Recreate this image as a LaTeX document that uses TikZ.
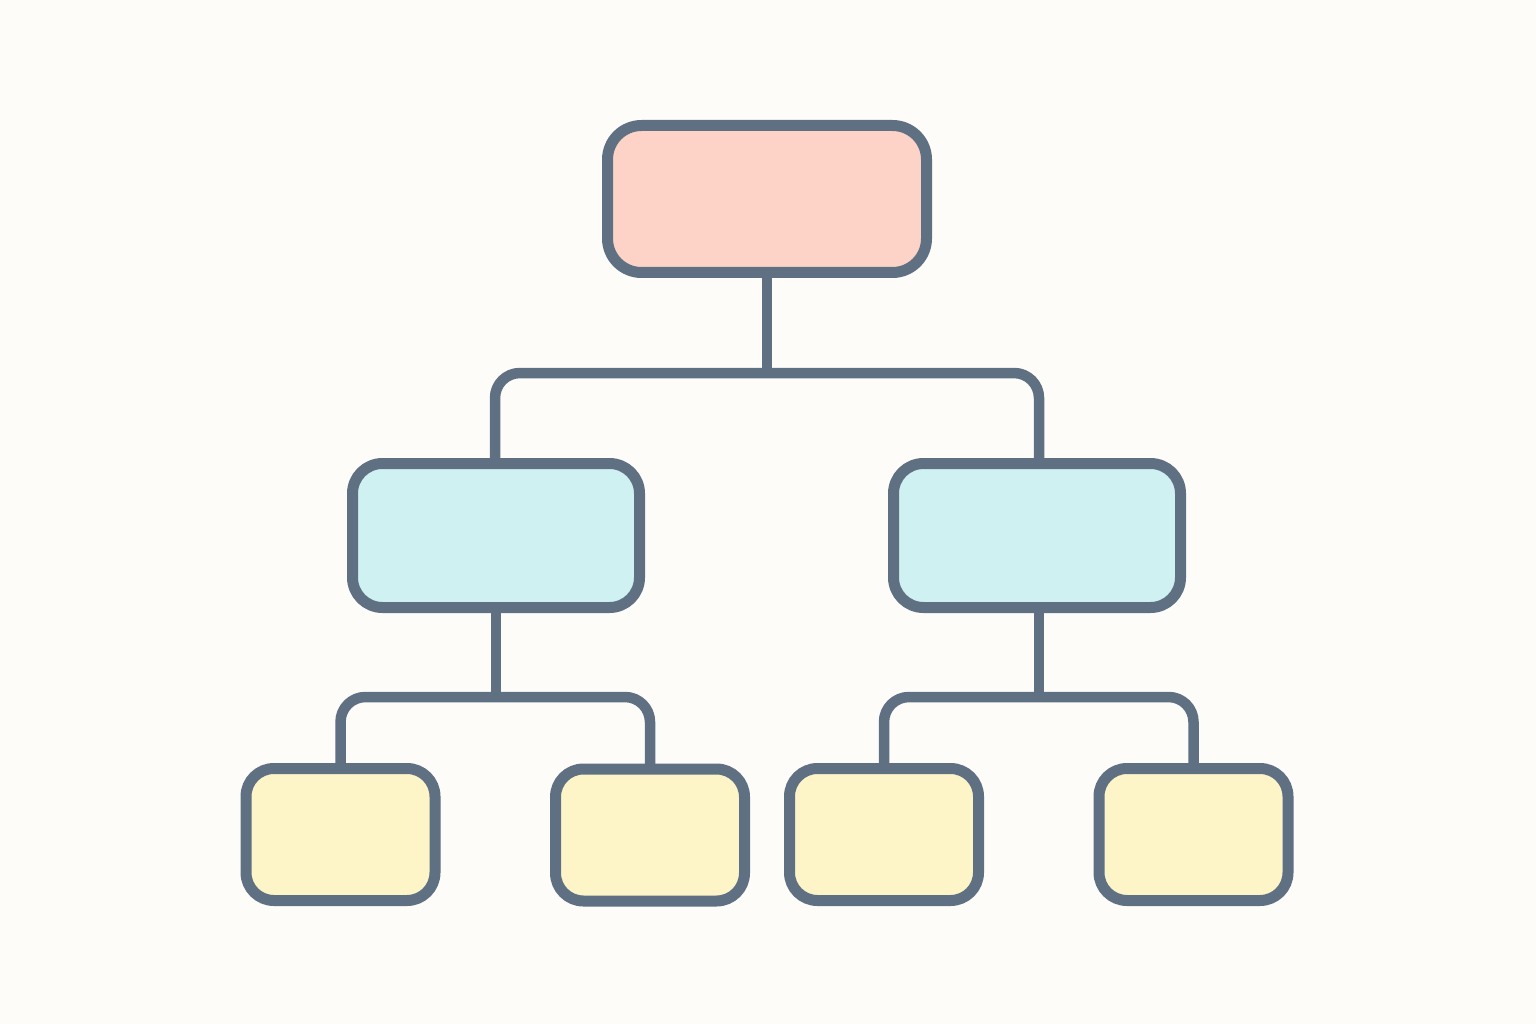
\documentclass[tikz,border=0pt]{standalone}
\usetikzlibrary{calc}
\definecolor{bg}{HTML}{FDFCF9}
\definecolor{edge}{HTML}{607083}
\definecolor{topfill}{HTML}{FDD3C8}
\definecolor{midfill}{HTML}{CFF1F1}
\definecolor{leaffill}{HTML}{FDF4C8}
\begin{document}
\begin{tikzpicture}[x=1pt,y=-1pt,
  box/.style={draw=edge,line width=11pt,rectangle,inner sep=0pt,outer sep=0pt},
  topbox/.style={box,fill=topfill,rounded corners=34pt,minimum width=319pt,minimum height=147pt},
  midbox/.style={box,fill=midfill,rounded corners=30pt,minimum width=287pt,minimum height=144pt},
  leafbox/.style={box,fill=leaffill,rounded corners=28pt,minimum width=189pt,minimum height=132pt},
  link/.style={draw=edge,line width=10.5pt,rounded corners=25pt}]
\fill[bg] (0,0) rectangle (1536,1024);
\useasboundingbox (0,0) rectangle (1536,1024);
\coordinate (j0) at (767,373);
\coordinate (j1) at (496,697);
\coordinate (j2) at (1039,697);
\node[topbox] (top) at (767,199) {};
\node[midbox] (ml) at (496,535.5) {};
\node[midbox] (mr) at (1037,535.5) {};
\node[leafbox] (b1) at (340.5,834.5) {};
\node[leafbox] (b2) at (650,835) {};
\node[leafbox] (b3) at (884,834.5) {};
\node[leafbox] (b4) at (1193.5,834.5) {};
\draw[link] (top.south) -- (j0);
\draw[link] ($(ml.north)+(-1,0)$) |- (j0) -| ($(mr.north)+(2,0)$);
\draw[link] (ml.south) -- (j1);
\draw[link] (b1.north) |- (j1) -| (b2.north);
\draw[link] ($(mr.south)+(2,0)$) -- (j2);
\draw[link] (b3.north) |- (j2) -| (b4.north);
\end{tikzpicture}
\end{document}
